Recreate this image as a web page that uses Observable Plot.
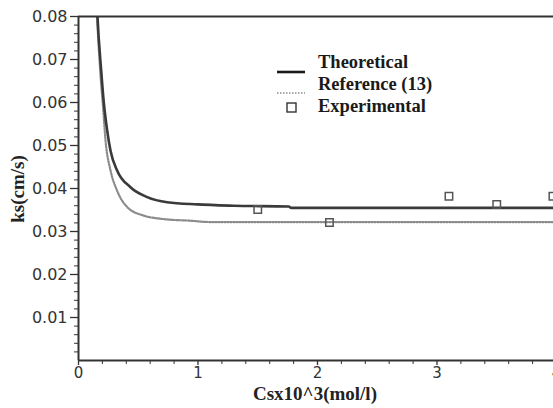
<!DOCTYPE html>
<html><head><meta charset="utf-8">
<script src="https://cdn.jsdelivr.net/npm/d3@7"></script>
<script src="https://cdn.jsdelivr.net/npm/@observablehq/plot@0.6"></script>
<style>body{margin:0;background:#fff;} svg{display:block;}</style>
</head><body><div id="chart"></div>
<script>
// Theoretical curve (x = Cs x10^3 mol/l, y = ks cm/s)
const theoX = [0.15, 0.159, 0.19, 0.21, 0.24, 0.268, 0.323, 0.435, 0.575, 0.742, 0.993, 1.3, 1.76, 1.78, 4.0];
const theoY = [0.086, 0.08, 0.0674, 0.0605, 0.0535, 0.0488, 0.0442, 0.0403, 0.038, 0.0368, 0.0363, 0.036, 0.0358, 0.0355, 0.0355];
// Reference (13) curve
const refX = [0.145, 0.155, 0.185, 0.205, 0.226, 0.268, 0.323, 0.407, 0.545, 0.71, 0.94, 1.1, 4.0];
const refY = [0.086, 0.08, 0.066, 0.059, 0.0512, 0.0442, 0.0395, 0.0357, 0.0337, 0.0329, 0.0325, 0.0322, 0.0322];
// Experimental points
const expX = [1.5, 2.1, 3.1, 3.5, 3.97];
const expY = [0.0351, 0.0321, 0.0382, 0.0363, 0.0382];
// Ticks
const xTicks = [0, 1, 2, 3, 4];
const yTicks = [0.01, 0.02, 0.03, 0.04, 0.05, 0.06, 0.07, 0.08];
const legendLabels = ["Theoretical", "Reference (13)", "Experimental"];

const theo = theoX.map((x, i) => ({x, y: theoY[i]}));
const ref = refX.map((x, i) => ({x, y: refY[i]}));
const exp = expX.map((x, i) => ({x, y: expY[i]}));
const xMinor = d3.range(0, 4.01, 0.2).filter(v => Math.abs(v - Math.round(v)) > 1e-6);
const yMinor = d3.range(0.002, 0.0801, 0.002).filter(v => Math.abs(v * 100 - Math.round(v * 100)) > 1e-6);

const axisColor = "#333";
const plot = Plot.plot({
  width: 553,
  height: 408,
  marginLeft: 78, marginTop: 16, marginBottom: 48, marginRight: 0,
  style: {fontFamily: "DejaVu Sans", fontSize: "16px", color: "#333", background: "#fff"},
  x: {domain: [0, 4], range: [78, 556]},
  y: {domain: [0, 0.08], range: [360, 16]},
  marks: [
    Plot.line(ref, {x: "x", y: "y", curve: "monotone-x", stroke: "#8c8c8c", strokeWidth: 2.2, strokeDasharray: "1.5,1.5", clip: true}),
    Plot.line(theo, {x: "x", y: "y", curve: "monotone-x", stroke: "#3a3a3a", strokeWidth: 2.6, clip: true}),
    Plot.dot(exp, {x: "x", y: "y", symbol: "square", r: 4.2, stroke: "#555", strokeWidth: 1.5, fill: "none"}),
    Plot.axisY(yMinor, {tickSize: 4, text: null, stroke: axisColor, label: null}),
    Plot.axisY(yTicks, {tickSize: 8, tickPadding: 3, tickFormat: d3.format(".2f"), stroke: axisColor, strokeWidth: 1.3, label: null}),
    Plot.axisX(xMinor, {tickSize: 4, text: null, stroke: axisColor, label: null}),
    Plot.axisX(xTicks, {tickSize: 5, tickPadding: 2, fontSize: 15, tickFormat: d3.format("d"), stroke: axisColor, strokeWidth: 1.3, label: null}),
    Plot.ruleX([0], {stroke: axisColor, strokeWidth: 2}),
    Plot.ruleY([0], {stroke: axisColor, strokeWidth: 2}),
    Plot.ruleY([0.08], {stroke: axisColor, strokeWidth: 2})
  ]
});

const svg = d3.select(plot);
const serif = "'Liberation Serif', 'Times New Roman', serif";
svg.append("text").text("ks(cm/s)")
  .attr("transform", "translate(24,189) rotate(-90)")
  .attr("text-anchor", "middle")
  .style("font-family", serif).style("font-weight", "bold").style("font-size", "19px").attr("fill", "#222");
svg.append("text").text("Csx10^3(mol/l)")
  .attr("x", 315).attr("y", 400)
  .attr("text-anchor", "middle")
  .style("font-family", serif).style("font-weight", "bold").style("font-size", "19px").attr("fill", "#222");

// Legend
const lg = svg.append("g");
lg.append("line").attr("x1", 277).attr("x2", 305).attr("y1", 72).attr("y2", 72)
  .attr("stroke", "#1a1a1a").attr("stroke-width", 2.6);
lg.append("line").attr("x1", 277).attr("x2", 305).attr("y1", 93).attr("y2", 93)
  .attr("stroke", "#8c8c8c").attr("stroke-width", 1.6).attr("stroke-dasharray", "1.5,1.5");
lg.append("rect").attr("x", 287).attr("y", 103).attr("width", 9).attr("height", 9)
  .attr("fill", "none").attr("stroke", "#333").attr("stroke-width", 1.4);
legendLabels.forEach((t, i) => {
  lg.append("text").text(t).attr("x", 318).attr("y", 68 + 22 * i)
    .attr("text-anchor", "start")
    .style("font-family", serif).style("font-weight", "bold").style("font-size", "18.5px").attr("fill", "#1a1a1a");
});

document.getElementById("chart").appendChild(plot);
</script>
</body></html>
